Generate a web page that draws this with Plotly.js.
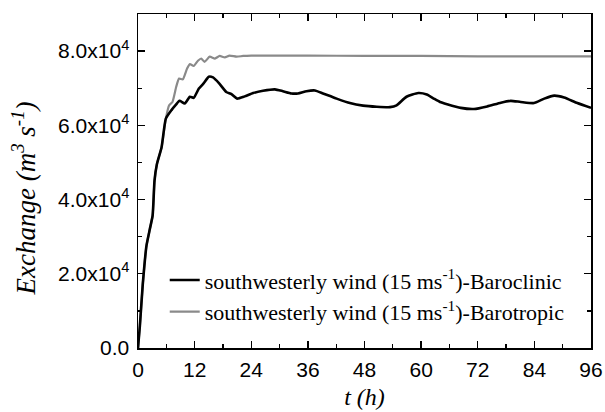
<!DOCTYPE html>
<html>
<head>
<meta charset="utf-8">
<script src="https://cdn.plot.ly/plotly-3.0.1.min.js"></script>
<style>html,body{margin:0;padding:0;background:#fff;}#chart{width:605px;height:412px;}</style>
</head>
<body>
<div id="chart"></div>
<script>
// Baroclinic series (black)
const tBaroclinic = [0, 0.4, 1, 1.8, 2.5, 3.1, 3.5, 4.0, 5.0, 5.9, 7.1, 8.0, 8.8, 9.9, 11.0, 11.8, 12.9, 13.9, 15.0, 15.9, 17.2, 18.7, 19.8, 21.0, 22.6, 24.4, 26.5, 29.0, 30.7, 32.5, 33.9, 35.7, 37.5, 39.2, 42.1, 44.9, 47.7, 50.6, 53.4, 54.8, 56.9, 59.4, 61.2, 62.7, 64.0, 65.5, 68.4, 71.2, 74.0, 76.9, 79.0, 81.1, 83.9, 86.1, 88.2, 90.3, 93.1, 96];
const vBaroclinic = [0, 6000, 17000, 27600, 32000, 35700, 45100, 49500, 54100, 61800, 64100, 65500, 66600, 65900, 67700, 67400, 69900, 71300, 73100, 72900, 71300, 69000, 68400, 67200, 67800, 68700, 69300, 69700, 69200, 68600, 68600, 69200, 69400, 68600, 67200, 66000, 65300, 65000, 64900, 65400, 67700, 68700, 68300, 67200, 66300, 65700, 64700, 64400, 65100, 66100, 66600, 66300, 66000, 67200, 68000, 67500, 66000, 64700];

// Barotropic series (gray)
const tBarotropic = [0, 0.4, 1, 1.8, 2.5, 3.1, 3.5, 4.0, 5.0, 5.9, 6.6, 7.3, 8.1, 8.7, 9.5, 10.4, 11.0, 11.8, 12.7, 13.4, 14.1, 15.2, 16.3, 17.3, 18.4, 19.4, 20.9, 22.3, 24, 30, 36, 48, 60, 72, 84, 96];
const vBarotropic = [0, 6000, 17000, 27600, 32000, 35700, 45100, 49500, 54100, 61800, 65400, 66300, 70400, 72600, 72400, 75300, 76500, 76000, 77400, 78000, 77100, 78500, 78000, 78700, 78300, 78800, 78500, 78700, 78800, 78800, 78800, 78700, 78700, 78600, 78600, 78600];

const xTickVals = [0, 12, 24, 36, 48, 60, 72, 84, 96];
const yTickVals = [0, 20000, 40000, 60000, 80000];
const yTickText = ['0.0', '2.0x10<sup>4</sup>', '4.0x10<sup>4</sup>', '6.0x10<sup>4</sup>', '8.0x10<sup>4</sup>'];
const seriesNames = ['southwesterly wind (15 ms<sup>-1</sup>)-Baroclinic', 'southwesterly wind (15 ms<sup>-1</sup>)-Barotropic'];

const traces = [
  {x: tBarotropic, y: vBarotropic, type: 'scatter', mode: 'lines', name: seriesNames[1], legendrank: 2,
   line: {color: '#8a8a8a', width: 2.2, shape: 'spline', smoothing: 0.5}},
  {x: tBaroclinic, y: vBaroclinic, type: 'scatter', mode: 'lines', name: seriesNames[0], legendrank: 1,
   line: {color: '#000000', width: 2.6, shape: 'spline', smoothing: 0.5}}
];

const axisCommon = {
  showline: true, linecolor: '#000', linewidth: 1.5, mirror: 'ticks',
  ticks: 'inside', ticklen: 7, tickwidth: 1.3, tickcolor: '#000',
  showgrid: false, zeroline: false,
  tickfont: {family: 'Liberation Sans, Arial, sans-serif', size: 21, color: '#000'}
};

const layout = {
  width: 605, height: 412,
  margin: {l: 138, r: 14, t: 14, b: 64},
  paper_bgcolor: '#fff', plot_bgcolor: '#fff',
  showlegend: true,
  legend: {
    x: 0.059, y: 0.155, xanchor: 'left', yanchor: 'middle',
    traceorder: 'normal',
    bgcolor: 'rgba(0,0,0,0)', borderwidth: 0,
    font: {family: 'Liberation Serif, Times New Roman, serif', size: 22, color: '#000'}
  },
  xaxis: Object.assign({}, axisCommon, {
    range: [0, 96], tickmode: 'array', tickvals: xTickVals, ticklabelstandoff: 2,
    minor: {dtick: 6, ticks: 'inside', ticklen: 4, tickcolor: '#000', tickwidth: 1.3},
    title: {text: '<i>t (h)</i>', standoff: 8, font: {family: 'Liberation Serif, Times New Roman, serif', size: 24, color: '#000'}}
  }),
  yaxis: Object.assign({}, axisCommon, {
    range: [0, 90000], tickmode: 'array', tickvals: yTickVals, ticktext: yTickText, ticklabelstandoff: 3,
    minor: {dtick: 10000, ticks: 'inside', ticklen: 4, tickcolor: '#000', tickwidth: 1.3}
  }),
  annotations: [{
    text: '<i>Exchange (m<sup>3</sup> s<sup>-1</sup>)</i>', textangle: -90,
    xref: 'paper', yref: 'paper', x: -0.252, y: 0.447, xanchor: 'center', yanchor: 'middle',
    showarrow: false, font: {family: 'Liberation Serif, Times New Roman, serif', size: 27, color: '#000'}
  }]
};

Plotly.newPlot('chart', traces, layout, {displayModeBar: false, staticPlot: true});
</script>
</body>
</html>
